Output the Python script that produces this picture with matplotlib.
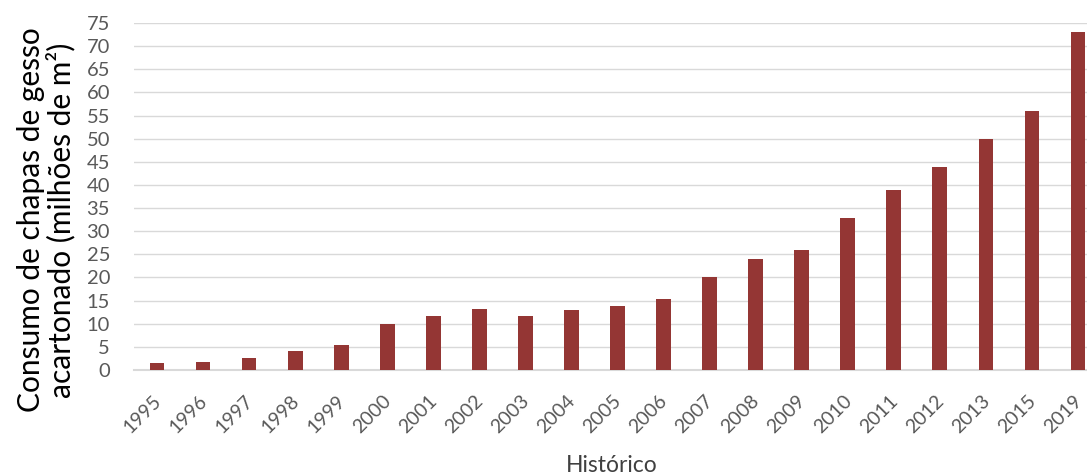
import matplotlib
matplotlib.use("Agg")
import matplotlib.pyplot as plt
import matplotlib.transforms as mtransforms
import numpy as np

years = ["1995", "1996", "1997", "1998", "1999", "2000", "2001", "2002", "2003",
         "2004", "2005", "2006", "2007", "2008", "2009", "2010", "2011", "2012",
         "2013", "2015", "2019"]
consumo = [1.6, 1.7, 2.7, 4.0, 5.5, 10, 11.7, 13.1, 11.7, 12.9, 13.8, 15.3,
           20, 23.9, 25.9, 32.8, 38.9, 43.9, 49.9, 56, 73]
yticks = list(range(0, 80, 5))

plt.rcParams['font.family'] = ['Lato', 'DejaVu Sans']

W, H = 1087, 476
fig = plt.figure(figsize=(W / 100, H / 100), dpi=100)
left_px, right_px, top_px, bottom_px = 134, 1101, 23, 370
ax = fig.add_axes([left_px / W, 1 - bottom_px / H,
                   (right_px - left_px) / W, (bottom_px - top_px) / H])

x = np.arange(len(years))
ax.bar(x, consumo, width=0.32, color="#943634", zorder=3)

ax.set_xlim(-0.5, len(years) - 0.5)
ax.set_ylim(0, 75)
ax.set_yticks(yticks)
ax.set_yticklabels([str(v) for v in yticks], fontsize=14.5, color="#595959")
ax.set_xticks(x)
ax.set_xticklabels(years, rotation=45, ha="right", rotation_mode="anchor",
                   fontsize=14, color="#595959")
ax.tick_params(axis="both", which="major", length=0, pad=0)

# shift tick labels away from the plot area
down = mtransforms.ScaledTranslation(-5 / 100, -22 / 100, fig.dpi_scale_trans)
for lbl in ax.get_xticklabels():
    lbl.set_transform(lbl.get_transform() + down)
leftward = mtransforms.ScaledTranslation(-24 / 100, 0, fig.dpi_scale_trans)
for lbl in ax.get_yticklabels():
    lbl.set_transform(lbl.get_transform() + leftward)

ax.grid(axis="y", color="#d9d9d9", linewidth=1.0, zorder=0)
for s in ["top", "right", "left"]:
    ax.spines[s].set_visible(False)
ax.spines["bottom"].set_color("#d9d9d9")
ax.spines["bottom"].set_linewidth(1.5)

fig.text(46 / W, 1 - 220 / H,
         "Consumo de chapas de gesso\nacartonado (milhões de m²)",
         fontsize=21.5, color="black", rotation=90, ha="center", va="center",
         linespacing=1.05, multialignment="center")
fig.text(612 / W, 1 - 465 / H, "Histórico", fontsize=16.5, color="#404040",
         ha="center", va="center")

fig.savefig("out.png", dpi=100)
